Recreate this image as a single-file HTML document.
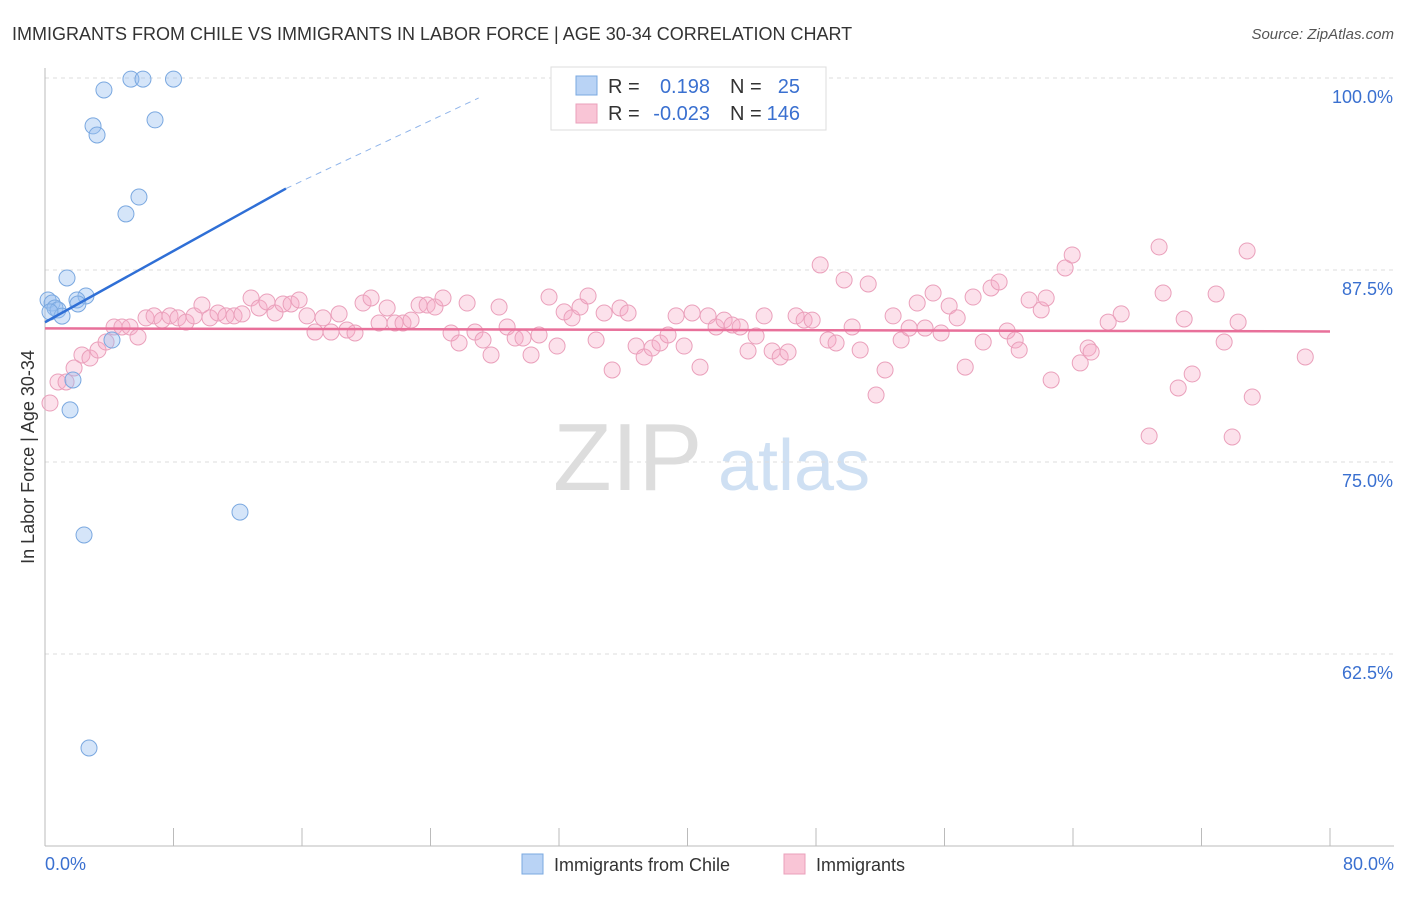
<!DOCTYPE html>
<html><head><meta charset="utf-8"><style>
body{margin:0;background:#fff;font-family:"Liberation Sans",sans-serif;}
svg text{font-family:"Liberation Sans",sans-serif;}
</style></head><body>
<svg id="chart" width="1406" height="892" xmlns="http://www.w3.org/2000/svg">
<text x="12" y="40" font-size="18" fill="#333">IMMIGRANTS FROM CHILE VS IMMIGRANTS IN LABOR FORCE | AGE 30-34 CORRELATION CHART</text>
<text x="1394" y="39" font-size="15" fill="#555" font-style="italic" text-anchor="end">Source: ZipAtlas.com</text>
<text transform="translate(34,457) rotate(-90)" font-size="18" fill="#333" text-anchor="middle">In Labor Force | Age 30-34</text>
<g>
<text x="553" y="490" font-size="96" fill="#ddd" font-family="Liberation Serif,serif">ZIP</text>
<text x="718" y="490" font-size="72" fill="#cfe0f3">atlas</text>
</g>
<g id="grid"></g><g id="axes"></g><g id="pink"></g><g id="blue"></g><g id="trend"></g>
<g>
<rect x="551" y="67" width="275" height="63" fill="#fff" stroke="#ddd"/>
<rect x="576" y="76" width="21" height="19" fill="#b9d3f5" stroke="#7aa8e0"/>
<rect x="576" y="104" width="21" height="19" fill="#f9c5d6" stroke="#eaa0bb"/>
<text x="608" y="93" font-size="20" fill="#333">R =</text>
<text x="710" y="93" font-size="20" fill="#3a70d0" text-anchor="end">0.198</text>
<text x="730" y="93" font-size="20" fill="#333">N =</text>
<text x="800" y="93" font-size="20" fill="#3a70d0" text-anchor="end">25</text>
<text x="608" y="120" font-size="20" fill="#333">R =</text>
<text x="710" y="120" font-size="20" fill="#3a70d0" text-anchor="end">-0.023</text>
<text x="730" y="120" font-size="20" fill="#333">N =</text>
<text x="800" y="120" font-size="20" fill="#3a70d0" text-anchor="end">146</text>
</g>
<g>
<rect x="522" y="854" width="21" height="20" fill="#b9d3f5" stroke="#7aa8e0"/>
<text x="554" y="871" font-size="18" fill="#333">Immigrants from Chile</text>
<rect x="784" y="854" width="21" height="20" fill="#f9c5d6" stroke="#eaa0bb"/>
<text x="816" y="871" font-size="18" fill="#333">Immigrants</text>
</g>
</svg>
<script>
const yTicks=[100,87.5,75,62.5];
const xTickLabels=["0.0%","80.0%"];
const blueX=[5.35,6.10,8.0,3.67,2.99,3.24,6.85,5.85,5.04,1.37,2.55,1.99,2.05,0.19,0.44,0.62,0.81,1.06,0.31,4.17,1.74,1.56,2.43,12.14,2.74];
const blueY=[99.93,99.93,99.93,99.22,96.88,96.29,97.27,92.25,91.15,86.98,85.81,85.55,85.29,85.55,85.35,85.03,84.9,84.5,84.77,82.94,80.34,78.39,70.25,71.74,56.38];
const pinkX=[0.31,0.81,1.31,1.81,2.30,2.80,3.30,3.80,4.30,4.79,5.29,5.79,6.29,6.79,7.29,7.78,8.28,8.78,9.28,9.77,10.27,10.77,11.27,11.77,12.27,12.83,13.33,13.82,14.32,14.82,15.32,15.82,16.31,16.81,17.31,17.81,18.31,18.80,19.30,19.80,20.30,20.80,21.30,21.79,22.29,22.79,23.29,23.79,24.28,24.78,25.28,25.78,26.28,26.77,27.27,27.77,28.27,28.77,29.27,29.76,30.26,30.76,31.38,31.88,32.32,32.81,33.31,33.81,34.31,34.81,35.31,35.80,36.30,36.80,37.30,37.80,38.29,38.79,39.29,39.79,40.29,40.78,41.28,41.78,42.28,42.78,43.28,43.77,44.27,44.77,45.27,45.77,46.26,46.76,47.26,47.76,48.26,48.75,49.25,49.75,50.25,50.75,51.25,51.74,52.30,52.80,53.30,53.80,54.30,54.79,55.29,55.79,56.29,56.79,57.29,57.78,58.41,58.90,59.40,59.90,60.40,60.65,61.27,62.02,62.33,62.64,63.51,63.95,64.45,64.94,65.13,66.19,67.00,68.74,69.36,69.61,70.55,70.92,71.42,72.91,73.41,73.91,74.28,74.84,75.16,78.46];
const pinkY=[78.84,80.21,80.21,81.12,81.97,81.77,82.29,82.81,83.79,83.79,83.79,83.14,84.38,84.51,84.24,84.51,84.38,84.11,84.51,85.22,84.38,84.70,84.51,84.51,84.64,85.68,85.03,85.42,84.70,85.29,85.29,85.55,84.51,83.46,84.38,83.46,84.64,83.59,83.40,85.35,85.68,84.05,85.03,84.05,84.05,84.24,85.22,85.22,85.09,85.68,83.40,82.75,85.35,83.46,82.94,81.97,85.09,83.79,83.07,83.07,81.97,83.27,85.74,82.55,84.77,84.38,85.09,85.81,82.94,84.70,80.99,85.03,84.70,82.55,81.84,82.42,82.75,83.27,84.51,82.55,84.70,81.18,84.51,83.79,84.24,83.92,83.79,82.23,83.20,84.51,82.23,81.84,82.16,84.51,84.24,84.24,87.83,82.94,82.75,86.85,83.79,82.29,86.59,79.36,80.99,84.51,82.94,83.72,85.35,83.72,86.00,83.40,85.16,84.38,81.18,85.74,82.81,86.33,86.72,83.53,82.94,82.29,85.55,84.90,85.68,80.34,87.63,88.48,81.45,82.42,82.16,84.11,84.64,76.69,89.00,86.00,79.82,84.31,80.73,85.94,82.81,76.63,84.11,88.74,79.23,81.84];
const blueTrend=[0,84.1,15,92.8,27,98.7];
const pinkTrend=[0,83.7,80,83.5];
const NS="http://www.w3.org/2000/svg";
const X0=45,X1=1330,Y0=78,YB=846;
function sx(v){return X0+(v/80)*(X1-X0);}
function sy(v){return Y0+(100-v)/12.5*192;}
function mk(tag,parent,attrs){const e=document.createElementNS(NS,tag);for(const k in attrs)e.setAttribute(k,attrs[k]);document.getElementById(parent).appendChild(e);return e;}
yTicks.forEach(t=>{
 const l=mk('line','grid',{x1:X0,x2:1394,y1:sy(t),y2:sy(t),stroke:'#ddd','stroke-dasharray':'4,4'});
 
 
 const tx=mk('text','grid',{x:1393,y:sy(t)+25,'font-size':18,fill:'#3a70d0','text-anchor':'end'});
 tx.textContent=t.toFixed(1)+'%';
 
 
});
const ax=mk('line','axes',{x1:X0,x2:X0,y1:68,y2:YB,stroke:'#bbb'});


const bx=mk('line','axes',{x1:X0,x2:1394,y1:YB,y2:YB,stroke:'#bbb'});


for(let i=0;i<=10;i++){
 const t=mk('line','axes',{x1:sx(i*8),x2:sx(i*8),y1:828,y2:YB,stroke:'#bbb'});
 
 
}
[[0,'start',45],[80,'end',1394]].forEach((d,i)=>{
 const tx=mk('text','axes',{x:d[2],y:870,'font-size':18,fill:'#3a70d0','text-anchor':d[1]});
 tx.textContent=xTickLabels[i];
 
 
});
pinkX.forEach((x,i)=>{
 const c=mk('circle','pink',{cx:sx(x),cy:sy(pinkY[i]),r:8,fill:'rgba(245,170,198,0.35)',stroke:'#eaa0bb','stroke-width':1});
 
 
});
blueX.forEach((x,i)=>{
 const c=mk('circle','blue',{cx:sx(x),cy:sy(blueY[i]),r:8,fill:'rgba(150,190,240,0.4)',stroke:'#7aa8e0','stroke-width':1});
 
 
});
const bt=mk('line','trend',{x1:sx(blueTrend[0]),y1:sy(blueTrend[1]),x2:sx(blueTrend[2]),y2:sy(blueTrend[3]),stroke:'#2f6fd6','stroke-width':2.5});


const bd=mk('line','trend',{x1:sx(blueTrend[2]),y1:sy(blueTrend[3]),x2:sx(blueTrend[4]),y2:sy(blueTrend[5]),stroke:'#8fb4ea','stroke-width':1,'stroke-dasharray':'6,5'});


const pt=mk('line','trend',{x1:sx(pinkTrend[0]),y1:sy(pinkTrend[1]),x2:sx(pinkTrend[2]),y2:sy(pinkTrend[3]),stroke:'#e8709a','stroke-width':2.5});


</script>
</body></html>
